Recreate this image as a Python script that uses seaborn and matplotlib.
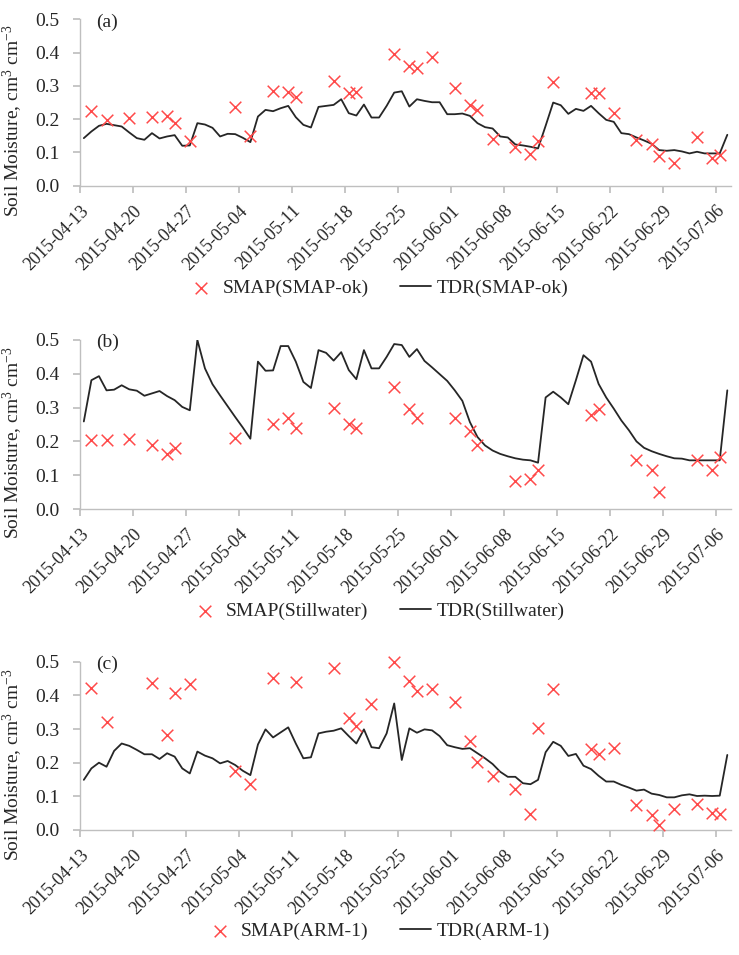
import pandas as pd
import matplotlib
matplotlib.use("Agg")
import matplotlib.pyplot as plt
import matplotlib.dates as mdates
import seaborn as sns

# daily TDR series, 2015-04-13 .. 2015-07-07
tdr_start = "2015-04-13"
tdr_ok = [.143, .163, .180, .186, .182, .178, .160, .143, .138, .158, .142, .148, .152, .120, .121,
          .188, .184, .174, .148, .156, .155, .144, .131, .208, .228, .224, .233, .240, .206, .183,
          .175, .237, .240, .243, .260, .218, .211, .244, .205, .205, .240, .280, .284,
          .238, .260, .255, .251, .251, .215, .215, .217, .210, .188, .176, .172, .148, .145, .124,
          .121, .117, .112, .180, .250, .242, .216, .231, .225, .240, .218, .198, .192, .158, .155,
          .145, .136, .126, .107, .105, .107, .103, .097, .102, .097, .097, .097, .153]
tdr_still = [.259, .381, .393, .351, .353, .366, .354, .350, .335, .342, .349, .334, .322, .302, .292,
             .500, .416, .369, .336, .304, .272, .241, .208, .436, .409, .410, .482, .482, .436, .376,
             .358, .470, .462, .439, .464, .411, .384, .470, .416, .416, .450, .488, .485,
             .450, .473, .438, .419, .399, .379, .351, .320, .257, .213, .188, .173, .163, .156, .150,
             .146, .144, .137, .330, .347, .330, .310, .381, .455, .436, .370, .330, .297, .262, .233,
             .200, .181, .171, .163, .156, .150, .149, .144, .144, .144, .144, .144, .351]
tdr_arm = [.149, .183, .200, .188, .235, .257, .250, .238, .225, .225, .211, .228, .218, .183, .168,
           .233, .221, .213, .198, .205, .193, .176, .163, .254, .299, .275, .290, .305, .257, .213,
           .216, .287, .292, .295, .302, .279, .257, .299, .246, .243, .287, .376, .208,
           .302, .289, .299, .296, .279, .252, .246, .241, .243, .228, .213, .196, .173, .158, .158,
           .139, .136, .149, .231, .262, .250, .220, .226, .191, .181, .161, .144, .144, .134, .126,
           .117, .120, .108, .104, .097, .097, .103, .106, .101, .102, .101, .102, .223]

# SMAP overpasses
smap_ok_dates = ["04-14", "04-16", "04-19", "04-22", "04-24", "04-25", "04-27", "05-03", "05-05",
                 "05-08", "05-10", "05-11", "05-16", "05-18", "05-19", "05-24", "05-26", "05-27",
                 "05-29", "06-01", "06-03", "06-04", "06-06", "06-09", "06-11", "06-12", "06-14",
                 "06-19", "06-20", "06-22", "06-25", "06-27", "06-28", "06-30", "07-03", "07-05", "07-06"]
smap_ok = [.225, .198, .204, .207, .211, .190, .133, .238, .149, .286, .283, .266, .314, .280, .283,
           .397, .360, .355, .387, .293, .243, .228, .140, .117, .095, .133, .313, .278, .278, .220,
           .138, .126, .089, .067, .146, .082, .092]

smap_still_dates = ["04-14", "04-16", "04-19", "04-22", "04-24", "04-25", "05-03", "05-08", "05-10",
                    "05-11", "05-16", "05-18", "05-19", "05-24", "05-26", "05-27", "06-01", "06-03",
                    "06-04", "06-09", "06-11", "06-12", "06-19", "06-20", "06-25", "06-27", "06-28",
                    "07-03", "07-05", "07-06"]
smap_still = [.203, .203, .208, .190, .163, .181, .211, .252, .270, .241, .299, .252, .241, .360,
              .295, .269, .269, .231, .188, .082, .089, .116, .279, .297, .146, .114, .050, .146,
              .114, .155]

smap_arm_dates = ["04-14", "04-16", "04-22", "04-24", "04-25", "04-27", "05-03", "05-05", "05-08",
                  "05-11", "05-16", "05-18", "05-19", "05-21", "05-24", "05-26", "05-27", "05-29",
                  "06-01", "06-03", "06-04", "06-06", "06-09", "06-11", "06-12", "06-14", "06-19",
                  "06-20", "06-22", "06-25", "06-27", "06-28", "06-30", "07-03", "07-05", "07-06"]
smap_arm = [.423, .322, .436, .282, .406, .433, .176, .137, .452, .441, .482, .334, .309, .373,
            .498, .443, .413, .419, .379, .265, .201, .161, .121, .048, .304, .419, .240, .225,
            .243, .074, .045, .015, .061, .076, .050, .047]

panels = [
    ("(a)", "SMAP-ok", tdr_ok, smap_ok_dates, smap_ok),
    ("(b)", "Stillwater", tdr_still, smap_still_dates, smap_still),
    ("(c)", "ARM-1", tdr_arm, smap_arm_dates, smap_arm),
]

sns.set_theme(style="ticks")
plt.rcParams["font.family"] = ["Liberation Serif", "DejaVu Serif"]
plt.rcParams["mathtext.default"] = "regular"

fig = plt.figure(figsize=(7.39, 9.55), dpi=100)
boxes = [[0.1083, 0.8056, 0.881, 0.174],
         [0.1083, 0.467, 0.881, 0.177],
         [0.1083, 0.1309, 0.881, 0.1762]]
legend_y = [0.698, 0.360, 0.025]

half_day = pd.Timedelta(hours=12)
for (tag, site, tdr, s_dates, s_vals), box, ly in zip(panels, boxes, legend_y):
    ax = fig.add_axes(box)
    tdr_df = pd.DataFrame({"date": pd.date_range(tdr_start, periods=len(tdr)) + half_day,
                           "sm": tdr})
    smap_df = pd.DataFrame({"date": pd.to_datetime(["2015-" + d for d in s_dates]) + half_day,
                            "sm": s_vals})

    sns.lineplot(data=tdr_df, x="date", y="sm", ax=ax, color="#262626", linewidth=1.3,
                 label=f"TDR({site})")
    sns.scatterplot(data=smap_df, x="date", y="sm", ax=ax, marker="x", color="#ff4a4a",
                    s=70, linewidth=1.1, label=f"SMAP({site})", clip_on=False, zorder=3)

    ax.set_xlim(pd.Timestamp("2015-04-13"), pd.Timestamp("2015-07-08"))
    ax.set_ylim(0, 0.5)
    ax.set_yticks([0, 0.1, 0.2, 0.3, 0.4, 0.5])
    ax.yaxis.set_major_formatter(matplotlib.ticker.FormatStrFormatter("%.1f"))
    ax.set_xticks(pd.date_range("2015-04-13", "2015-07-06", freq="7D"))
    ax.xaxis.set_major_formatter(mdates.DateFormatter("%Y-%m-%d"))
    ax.tick_params(axis="x", labelsize=13, rotation=45, color="#bfbfbf", length=5, pad=7)
    ax.tick_params(axis="y", labelsize=14, color="#bfbfbf", length=5, pad=10)
    for lab in ax.get_xticklabels():
        lab.set_ha("right")
        lab.set_rotation_mode("anchor")
    for side in ["top", "right"]:
        ax.spines[side].set_visible(False)
    for side in ["left", "bottom"]:
        ax.spines[side].set_color("#bfbfbf")
        ax.spines[side].set_linewidth(1.0)

    ax.set_xlabel("")
    ax.set_ylabel("Soil Moisture, cm$^3$ cm$^{-3}$", fontsize=14)
    ax.yaxis.set_label_coords(-0.085, 0.39)
    ax.text(0.025, 0.985, tag, transform=ax.transAxes, fontsize=14, va="center", ha="left")

    handles, labels = ax.get_legend_handles_labels()
    ax.legend(handles[::-1], labels[::-1], ncol=2, frameon=False, fontsize=14,
              loc="center", bbox_to_anchor=(0.51, ly), bbox_transform=fig.transFigure,
              handlelength=1.6, handletextpad=0.3, columnspacing=1.6)

fig.savefig("out.png", dpi=100)
